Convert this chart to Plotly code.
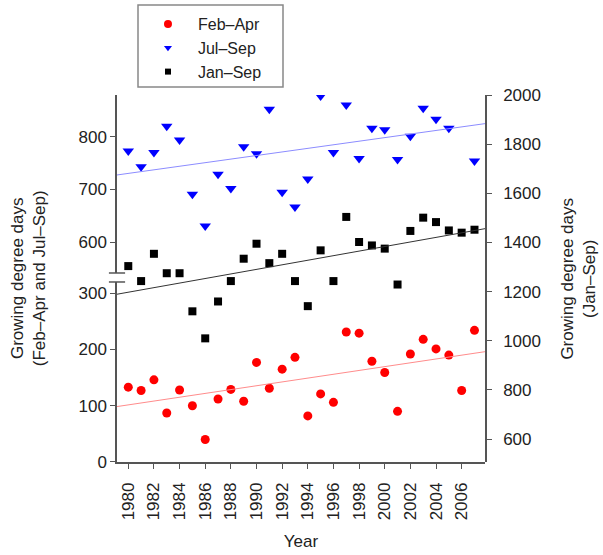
import numpy as np
import plotly.graph_objects as go

years = list(range(1980, 2008))

# Growing degree days per season
feb_apr = [133, 127, 146, 87, 128, 100, 40, 112, 129, 108, 177, 131, 165, 186,
           82, 121, 106, 231, 229, 179, 159, 90, 192, 218, 201, 190, 127, 234]
jul_sep = [773, 743, 770, 820, 794, 691, 631, 729, 702, 781, 768, 852, 695, 667,
           720, 877, 770, 860, 759, 816, 813, 757, 801, 854, 833, 816, 890, 754]
jan_sep = [1304, 1243, 1354, 1275, 1275, 1120, 1010, 1160, 1243, 1334, 1395, 1316,
           1354, 1243, 1141, 1368, 1243, 1504, 1402, 1388, 1375, 1229, 1447, 1501,
           1483, 1449, 1440, 1452]

series_names = ["Feb–Apr", "Jul–Sep", "Jan–Sep"]

x_ticks = list(range(1980, 2007, 2))
low_ticks = [0, 100, 200, 300]
high_ticks = [600, 700, 800]
right_ticks = [600, 800, 1000, 1200, 1400, 1600, 1800, 2000]

X_RANGE = [1979.12, 2007.82]
LOW_RANGE = [0, 320]
HIGH_RANGE = [542, 879]
RIGHT_RANGE = [507, 2000]

FONT = "Arial, Liberation Sans, sans-serif"
AXIS_COL = "#555555"
TXT_COL = "#222222"


def trend(xs, ys):
    xs = np.asarray(xs, float)
    ys = np.asarray(ys, float)
    k, b = np.polyfit(xs, ys, 1)
    xe = np.array(X_RANGE)
    return xe, k * xe + b


fig = go.Figure()

styles = [
    dict(data=feb_apr, axis="y", symbol="circle", size=9, leg_size=8,
         color="#ff0000", line="#ff8c8c"),
    dict(data=jul_sep, axis="y2", symbol="triangle-down", size=10, leg_size=7,
         color="#0000ff", line="#8c8cff"),
    dict(data=jan_sep, axis="y3", symbol="square", size=8, leg_size=6,
         color="#000000", line="#333333"),
]

for name, st in zip(series_names, styles):
    fig.add_trace(go.Scatter(x=years, y=st["data"], mode="markers", name=name,
                             showlegend=False,
                             marker=dict(symbol=st["symbol"], size=st["size"],
                                         color=st["color"]),
                             xaxis="x", yaxis=st["axis"]))
    lx, ly = trend(years, st["data"])
    fig.add_trace(go.Scatter(x=lx, y=ly, mode="lines", showlegend=False,
                             line=dict(color=st["line"], width=1), hoverinfo="skip",
                             xaxis="x", yaxis=st["axis"]))

# Legend entries with their own (smaller) symbols
for name, st in zip(series_names, styles):
    fig.add_trace(go.Scatter(x=[None], y=[None], mode="markers", name=name,
                             marker=dict(symbol=st["symbol"], size=st["leg_size"],
                                         color=st["color"]),
                             xaxis="x", yaxis=st["axis"]))

axis_common = dict(showline=True, linecolor=AXIS_COL, linewidth=1.5, ticks="outside",
                   ticklen=5, tickcolor=AXIS_COL, showgrid=False, zeroline=False,
                   tickfont=dict(size=17, color=TXT_COL, family=FONT))

fig.update_layout(
    width=603, height=555,
    margin=dict(l=117, r=118, t=95, b=93, autoexpand=False),
    paper_bgcolor="white", plot_bgcolor="rgba(0,0,0,0)",
    font=dict(family=FONT, size=17, color=TXT_COL),
    xaxis=dict(range=X_RANGE, tickvals=x_ticks, tickangle=-90, anchor="y",
               ticklabelstandoff=7,
               title=dict(text="Year", font=dict(size=17), standoff=16),
               **axis_common),
    yaxis=dict(domain=[0, 0.4905], range=LOW_RANGE, tickvals=low_ticks,
               anchor="x", **axis_common),
    yaxis2=dict(domain=[0.515, 1], range=HIGH_RANGE, tickvals=high_ticks,
                anchor="x", **axis_common),
    yaxis3=dict(domain=[0, 1], range=RIGHT_RANGE, tickvals=right_ticks,
                anchor="x", side="right", ticklabelstandoff=8, **axis_common),
    legend=dict(x=0.057, y=1.2395, xanchor="left", yanchor="top",
                bgcolor="rgba(0,0,0,0)", borderwidth=0, itemwidth=50,
                font=dict(size=16, color=TXT_COL), tracegroupgap=0),
    showlegend=True,
)

# Legend frame
fig.add_shape(type="rect", xref="paper", yref="paper",
              x0=(138 - 117) / 368, x1=(283 - 117) / 368,
              y0=(462 - 87) / 367, y1=(462 - 5) / 367,
              line=dict(color="#888888", width=1.5), fillcolor="rgba(0,0,0,0)")

# Axis break marks on the left axis
for yr, yv in [("y domain", 1), ("y2 domain", 0)]:
    fig.add_shape(type="line", xref="paper", yref=yr, x0=-0.022, x1=0.022,
                  y0=yv, y1=yv, line=dict(color=AXIS_COL, width=1.5))

# Axis titles
fig.add_annotation(text="Growing degree days<br>(Feb–Apr and Jul–Sep)",
                   xref="paper", yref="paper", x=-0.24, y=0.5, textangle=-90,
                   showarrow=False, font=dict(size=17, color=TXT_COL),
                   xanchor="center", yanchor="middle")
fig.add_annotation(text="Growing degree days<br>(Jan–Sep)",
                   xref="paper", yref="paper", x=1.253, y=0.5, textangle=-90,
                   showarrow=False, font=dict(size=17, color=TXT_COL),
                   xanchor="center", yanchor="middle")

fig.write_html("out.html")
